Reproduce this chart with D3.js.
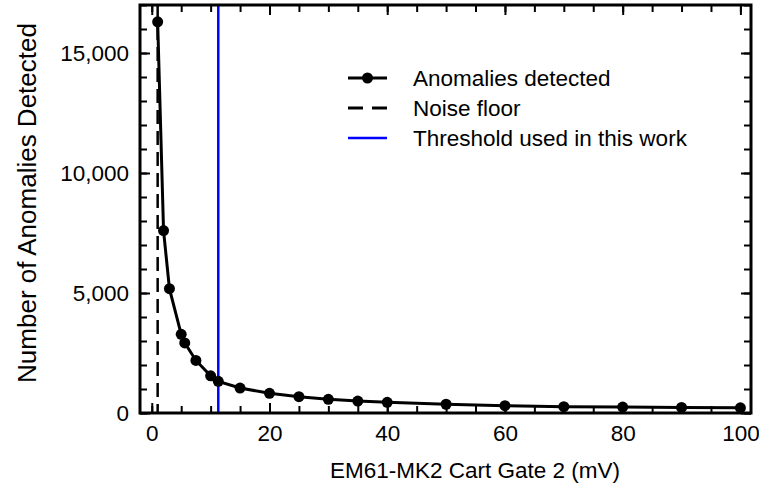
<!DOCTYPE html>
<html>
<head>
<meta charset="utf-8">
<script src="https://cdn.jsdelivr.net/npm/d3@7"></script>
<style>
  html, body { margin: 0; padding: 0; background: #fff; }
  svg text { font-family: "Liberation Sans", Arial, sans-serif; fill: #000; }
</style>
</head>
<body>
<svg id="chart" width="759" height="494"></svg>
<script>
	'use strict';

	// DATA
	var gateValues = [1, 2, 3, 5, 5.6, 7.5, 10, 11.3, 15, 20, 25, 30, 35, 40, 50, 60, 70, 80, 90, 100];
	var anomalyCounts = [16300, 7600, 5180, 3280, 2920, 2190, 1550, 1320, 1040, 820, 680, 570, 495, 445, 365, 305, 265, 245, 230, 215];
	var noiseFloor = 1;
	var thresholdUsed = 11.3;
	var xTicksMajor = [0, 20, 40, 60, 80, 100];
	var yTicksMajor = [0, 5000, 10000, 15000];
	var legendLabels = ['Anomalies detected', 'Noise floor', 'Threshold used in this work'];

	var margin = { top: 5, right: 8, bot: 81, left: 140 };
	var W = 759, H = 494;
	var width = W - margin.left - margin.right;
	var height = H - margin.top - margin.bot;

	var xScale = d3.scaleLinear().domain([-2, 101.8]).range([0, width]);
	var yScale = d3.scaleLinear().domain([0, 17000]).range([height, 0]);

	var svg = d3.select('#chart');
	var g = svg.append('g').attr('transform', 'translate(' + margin.left + ',' + margin.top + ')');

	var fontSize = 22.5;
	var xMinor = d3.range(0, 101, 5);
	var yMinor = d3.range(0, 17001, 1000);

	function styleAxis(sel) {
		sel.select('.domain').remove();
		sel.selectAll('line').attr('stroke', '#000').attr('stroke-width', 2);
		sel.selectAll('text').style('font-size', fontSize + 'px');
	}

	// minor ticks, all four sides, pointing in
	g.append('g').attr('transform', 'translate(0,' + height + ')')
		.call(d3.axisBottom(xScale).tickValues(xMinor).tickSize(-7).tickFormat(''))
		.call(styleAxis);
	g.append('g')
		.call(d3.axisTop(xScale).tickValues(xMinor).tickSize(-7).tickFormat(''))
		.call(styleAxis);
	g.append('g')
		.call(d3.axisLeft(yScale).tickValues(yMinor).tickSize(-7).tickFormat(''))
		.call(styleAxis);
	g.append('g').attr('transform', 'translate(' + width + ',0)')
		.call(d3.axisRight(yScale).tickValues(yMinor).tickSize(-7).tickFormat(''))
		.call(styleAxis);

	// major ticks + labels
	g.append('g').attr('transform', 'translate(0,' + height + ')')
		.call(d3.axisBottom(xScale).tickValues(xTicksMajor).tickSize(-10).tickPadding(12).tickFormat(d3.format('d')))
		.call(styleAxis);
	g.append('g')
		.call(d3.axisTop(xScale).tickValues(xTicksMajor).tickSize(-10).tickFormat(''))
		.call(styleAxis);
	g.append('g')
		.call(d3.axisLeft(yScale).tickValues(yTicksMajor).tickSize(-10).tickPadding(11).tickFormat(d3.format(',')))
		.call(styleAxis);
	g.append('g').attr('transform', 'translate(' + width + ',0)')
		.call(d3.axisRight(yScale).tickValues(yTicksMajor).tickSize(-10).tickFormat(''))
		.call(styleAxis);

	// noise floor + threshold
	g.append('line')
		.attr('x1', xScale(noiseFloor)).attr('x2', xScale(noiseFloor))
		.attr('y1', 0).attr('y2', height)
		.attr('stroke', '#000').attr('stroke-width', 2.5).attr('stroke-dasharray', '14,7');
	g.append('line')
		.attr('x1', xScale(thresholdUsed)).attr('x2', xScale(thresholdUsed))
		.attr('y1', 0).attr('y2', height)
		.attr('stroke', '#0000ff').attr('stroke-width', 2.5);

	// data line + markers
	var data = gateValues.map(function(v, i) { return { x: v, y: anomalyCounts[i] }; });
	var line = d3.line()
		.x(function(d) { return xScale(d.x); })
		.y(function(d) { return yScale(d.y); });
	g.append('path').datum(data)
		.attr('d', line)
		.attr('fill', 'none').attr('stroke', '#000').attr('stroke-width', 3);
	g.selectAll('circle.pt').data(data).enter().append('circle')
		.attr('class', 'pt')
		.attr('cx', function(d) { return xScale(d.x); })
		.attr('cy', function(d) { return yScale(d.y); })
		.attr('r', 5.5).attr('fill', '#000');

	// frame
	g.append('rect')
		.attr('x', 0).attr('y', 0).attr('width', width).attr('height', height)
		.attr('fill', 'none').attr('stroke', '#000').attr('stroke-width', 3);

	// legend
	var lg = svg.append('g').attr('transform', 'translate(348,78)');
	var rowH = 30;
	legendLabels.forEach(function(label, i) {
		var row = lg.append('g').attr('transform', 'translate(0,' + (i * rowH) + ')');
		var ln = row.append('line').attr('x1', 0).attr('x2', 39).attr('y1', 0).attr('y2', 0)
			.attr('stroke-width', 3);
		if (i === 0) {
			ln.attr('stroke', '#000');
			row.append('circle').attr('cx', 19.5).attr('cy', 0).attr('r', 5.5).attr('fill', '#000');
		} else if (i === 1) {
			ln.attr('stroke', '#000').attr('stroke-dasharray', '15,9');
		} else {
			ln.attr('stroke', '#0000ff').attr('stroke-width', 2.5);
		}
		row.append('text').attr('x', 65).attr('y', 0).attr('dy', '0.35em')
			.style('font-size', fontSize + 'px').text(label);
	});

	// axis titles
	svg.append('text')
		.attr('x', 475).attr('y', 478)
		.attr('text-anchor', 'middle').style('font-size', fontSize + 'px')
		.text('EM61-MK2 Cart Gate 2 (mV)');
	svg.append('text')
		.attr('transform', 'translate(36,203) rotate(-90)')
		.attr('text-anchor', 'middle').style('font-size', '26px')
		.text('Number of Anomalies Detected');
</script>
</body>
</html>
